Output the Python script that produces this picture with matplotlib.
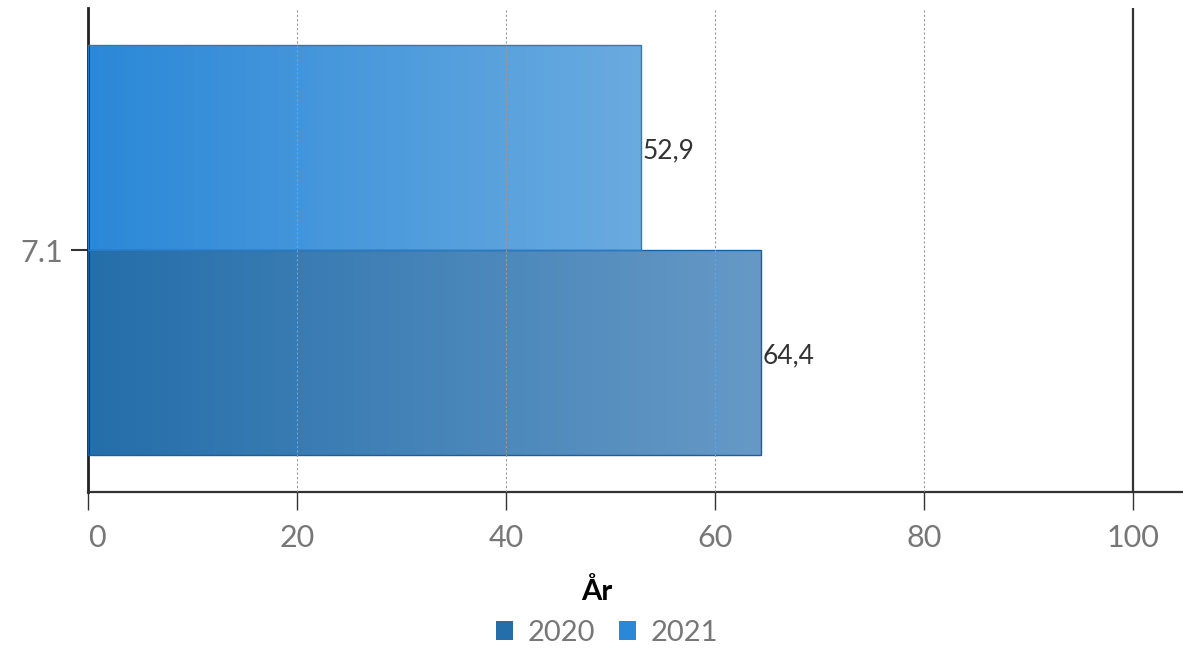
import numpy as np
import matplotlib
matplotlib.use("Agg")
import matplotlib.pyplot as plt
from matplotlib.patches import Patch
from matplotlib.colors import LinearSegmentedColormap

plt.rcParams['font.family'] = ['Lato', 'DejaVu Sans']

category = "7.1"
series_names = ["2020", "2021"]
values = [64.4, 52.9]
value_labels = ["64,4", "52,9"]
x_ticks = [0, 20, 40, 60, 80, 100]
legend_title = "År"

base_colors = ["#246eaa", "#2b88d8"]
end_colors = ["#6699c6", "#6aabe0"]
edge_colors = ["#1f5f99", "#2a7ac4"]

fig = plt.figure(figsize=(11.83, 6.48), dpi=100)
ax = fig.add_axes([88/1183, 1-492/648, 1-88/1183, (492-8)/648])

offsets = [-0.5, 0.5]
for i, (name, v) in enumerate(zip(series_names, values)):
    bars = ax.barh(offsets[i], v, height=1.0, color='none',
                   edgecolor=edge_colors[i], linewidth=1.0, zorder=3)
    p = bars[0]
    cmap = LinearSegmentedColormap.from_list(f"g{i}", [base_colors[i], end_colors[i]])
    grad = np.linspace(0, 1, 256).reshape(1, -1)
    im = ax.imshow(grad, cmap=cmap, aspect='auto',
                   extent=[0, v, offsets[i]-0.5, offsets[i]+0.5],
                   zorder=2, interpolation='bicubic')
    im.set_clip_path(p)
    ax.text(v + 0.15, offsets[i] - 0.015, value_labels[i], va='center', ha='left',
            fontsize=19, color='#333333', zorder=5)

ax.set_xlim(0, 104.8)
ax.set_ylim(-242/205, 242/205)

for t in x_ticks[1:-1]:
    ax.axvline(t, color='#999999', linestyle=(0, (2, 2)), linewidth=0.8, zorder=4)
ax.axvline(100, color='#333333', linewidth=1.6, zorder=4)

ax.set_xticks(x_ticks)
ax.set_xticklabels([str(t) for t in x_ticks])
ax.set_yticks([0])
ax.set_yticklabels([category])
ax.tick_params(axis='x', length=13, width=1, color='#333333', labelsize=22,
               labelcolor='#777777', pad=10)
ax.tick_params(axis='y', length=12, width=1.5, color='#333333', labelsize=22,
               labelcolor='#777777', pad=6)
labs = ax.get_xticklabels()
labs[0].set_horizontalalignment('left')

for s in ['top', 'right']:
    ax.spines[s].set_visible(False)
ax.spines['left'].set_color('#222222')
ax.spines['left'].set_linewidth(2)
ax.spines['bottom'].set_color('#333333')
ax.spines['bottom'].set_linewidth(1.6)

fig.text(597/1183, 1-592/648, legend_title, ha='center', va='center',
         fontsize=21, fontweight='bold', color='black')

handles = [Patch(facecolor=c, edgecolor='none') for c in base_colors]
leg = fig.legend(handles, series_names, loc='center', bbox_to_anchor=(607/1183, 1-633/648),
                 ncol=2, frameon=False, fontsize=21,
                 handlelength=0.6, handleheight=0.6, handletextpad=0.5,
                 columnspacing=0.8, borderpad=0, labelspacing=0)
for t in leg.get_texts():
    t.set_color('#777777')

fig.savefig("out.png", dpi=100)
